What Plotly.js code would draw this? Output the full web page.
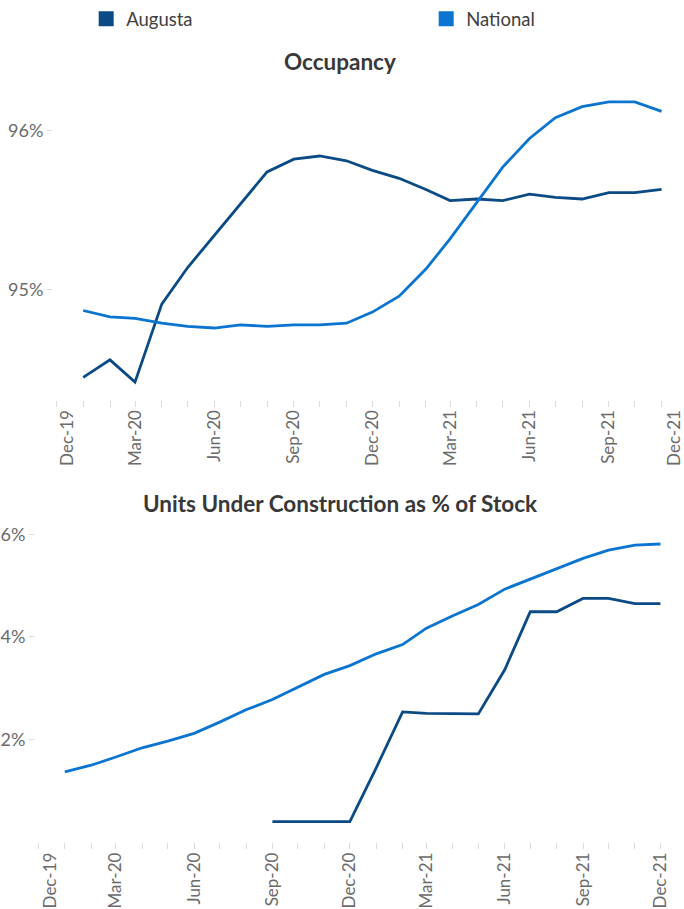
<!DOCTYPE html>
<html><head><meta charset="utf-8">
<script src="https://cdn.plot.ly/plotly-3.0.1.min.js"></script>
<style>html,body{margin:0;padding:0;background:#fff}#chart{width:684px;height:909px}</style>
</head><body><div id="chart"></div>
<script>
// ---- Data ----
const occMonths = ['2020-01-01','2020-02-01','2020-03-01','2020-04-01','2020-05-01','2020-06-01','2020-07-01','2020-08-01','2020-09-01','2020-10-01','2020-11-01','2020-12-01','2021-01-01','2021-02-01','2021-03-01','2021-04-01','2021-05-01','2021-06-01','2021-07-01','2021-08-01','2021-09-01','2021-10-01','2021-11-01'];
const occAugusta = [94.45,94.56,94.42,94.91,95.14,95.34,95.54,95.74,95.82,95.84,95.81,95.75,95.70,95.63,95.56,95.57,95.56,95.60,95.58,95.57,95.61,95.61,95.63];
const occNational = [94.87,94.83,94.82,94.79,94.77,94.76,94.78,94.77,94.78,94.78,94.79,94.86,94.96,95.13,95.32,95.55,95.77,95.95,96.08,96.15,96.18,96.18,96.12];

const ucMonths = ['2020-01-01','2020-02-01','2020-03-01','2020-04-01','2020-05-01','2020-06-01','2020-07-01','2020-08-01','2020-09-01','2020-10-01','2020-11-01','2020-12-01','2021-01-01','2021-02-01','2021-03-01','2021-04-01','2021-05-01','2021-06-01','2021-07-01','2021-08-01','2021-09-01','2021-10-01','2021-11-01','2021-12-01'];
const ucNational = [1.37,1.50,1.66,1.84,1.97,2.12,2.34,2.58,2.78,3.02,3.27,3.44,3.67,3.85,4.17,4.41,4.63,4.93,5.13,5.33,5.53,5.69,5.79,5.81];
const ucAugusta = [null,null,null,null,null,null,null,null,0.40,0.40,0.40,0.40,1.45,2.54,2.51,2.50,2.50,3.36,4.49,4.49,4.75,4.75,4.65,4.65];

const seriesNames = ['Augusta','National'];
const tickLabels = ['Dec-19','Mar-20','Jun-20','Sep-20','Dec-20','Mar-21','Jun-21','Sep-21','Dec-21'];
const occTickVals = [95, 96];
const occTickText = ['95%','96%'];
const ucTickVals = [2, 4, 6];
const ucTickText = ['2%','4%','6%'];
const topTitle = 'Occupancy';
const bottomTitle = 'Units Under Construction as % of Stock';

// ---- Styling ----
const cAug = '#0b4a85';
const cNat = '#0a74d0';
const FONT = 'Lato, "Open Sans", sans-serif';
const tickGray = '#6b6b6b';
const tickMarkColor = '#dcdcdc';

// label positions (end labels nudged inward, as in the reference)
const topTickPos = ['2019-12-14','2020-03-01','2020-06-01','2020-09-01','2020-12-01','2021-03-01','2021-06-01','2021-09-01','2021-11-16'];
const botTickPos = ['2019-12-15','2020-03-01','2020-06-01','2020-09-01','2020-12-01','2021-03-01','2021-06-01','2021-09-01','2021-12-01'];

const traces = [
  {x: occMonths, y: occAugusta, mode:'lines', line:{color:cAug, width:2.8}, xaxis:'x', yaxis:'y', showlegend:false, hoverinfo:'skip'},
  {x: occMonths, y: occNational, mode:'lines', line:{color:cNat, width:2.8}, xaxis:'x', yaxis:'y', showlegend:false, hoverinfo:'skip'},
  {x: ucMonths, y: ucNational, mode:'lines', line:{color:cNat, width:2.8}, xaxis:'x2', yaxis:'y2', showlegend:false, hoverinfo:'skip'},
  {x: ucMonths, y: ucAugusta, mode:'lines', line:{color:cAug, width:2.8}, xaxis:'x2', yaxis:'y2', showlegend:false, hoverinfo:'skip', connectgaps:false},
  {x:[null], y:[null], mode:'markers', marker:{symbol:'square', size:15, color:cAug}, name: seriesNames[0], xaxis:'x', yaxis:'y', showlegend:true, legend:'legend', hoverinfo:'skip'},
  {x:[null], y:[null], mode:'markers', marker:{symbol:'square', size:15, color:cNat}, name: seriesNames[1], xaxis:'x', yaxis:'y', showlegend:true, legend:'legend2', hoverinfo:'skip'}
];

function xAxis(domain, range, tickPos, anchor){
  return {
    type:'date', domain: domain, range: range, anchor: anchor,
    tickmode:'array', tickvals: tickPos, ticktext: tickLabels,
    tickangle:-90, ticks:'', ticklabelstandoff: 6, ticklabeloverflow:'allow',
    tickfont:{family:FONT, size:17, color:tickGray},
    showgrid:false, zeroline:false, showline:false,
    minor:{ticks:'outside', ticklen:6, tickcolor:tickMarkColor, tickwidth:1, tickmode:'linear', tick0:'2019-12-01 01:00', dtick:'M1', showgrid:false},
    fixedrange:true
  };
}
function yAxis(domain, range, tickvals, ticktext, anchor){
  return {
    domain: domain, range: range, anchor: anchor,
    tickmode:'array', tickvals: tickvals, ticktext: ticktext,
    ticks:'outside', ticklen:5, tickcolor:tickMarkColor, tickwidth:1,
    tickfont:{family:FONT, size:18, color:tickGray},
    showgrid:false, zeroline:false, showline:false, fixedrange:true
  };
}

const H = 909, W = 684;
const legendBase = {orientation:'h', xanchor:'left', y: 1.003, yanchor:'top', itemwidth:30,
          font:{family:FONT, size:18.5, color:'#404040'}, bgcolor:'rgba(0,0,0,0)'};
const layout = {
  width: W, height: H,
  margin:{l:0, r:0, t:0, b:0},
  paper_bgcolor:'#fff', plot_bgcolor:'#fff',
  font:{family:FONT},
  showlegend:true,
  legend: Object.assign({}, legendBase, {x: 0.126}),
  legend2: Object.assign({}, legendBase, {x: 0.126 + 340/W}),
  xaxis: xAxis([53/W, 1], ['2019-11-27','2021-11-27'], topTickPos, 'y'),
  yaxis: yAxis([1-398/H, 1-80/H], [94.31, 96.3], occTickVals, occTickText, 'x'),
  xaxis2: xAxis([35/W, 663/W], ['2019-11-27','2021-12-04'], botTickPos, 'y2'),
  yaxis2: yAxis([1-842/H, 1-533/H], [0, 6], ucTickVals, ucTickText, 'x2'),
  annotations:[
    {text:'<b>'+topTitle+'</b>', xref:'paper', yref:'paper', x:340/W, y:1-59/H, xanchor:'center', yanchor:'middle', showarrow:false, font:{family:FONT, size:22.5, color:'#383838'}},
    {text:'<b>'+bottomTitle+'</b>', xref:'paper', yref:'paper', x:340/W, y:1-502/H, xanchor:'center', yanchor:'middle', showarrow:false, font:{family:FONT, size:22.5, color:'#383838'}}
  ]
};

Plotly.newPlot('chart', traces, layout, {displayModeBar:false, staticPlot:true});
</script>
</body></html>
